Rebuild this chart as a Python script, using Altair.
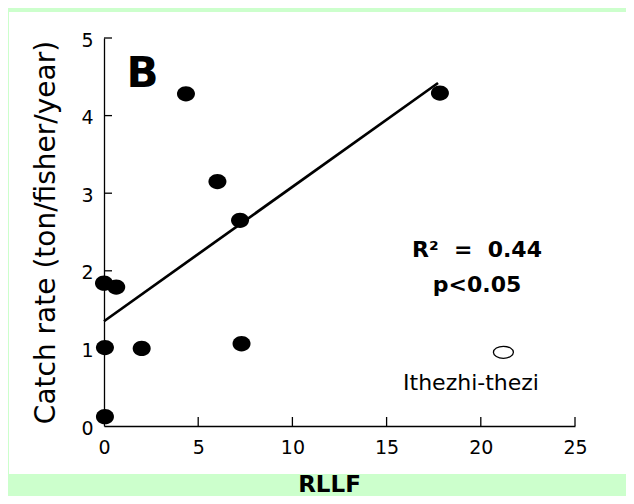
import altair as alt
import pandas as pd

# ---- data ----
rllf = [0.05, 0.05, 0.0, 0.65, 2.0, 7.3, 4.35, 6.02, 7.22, 17.83]
catch_rate = [0.12, 1.01, 1.84, 1.79, 1.0, 1.06, 4.28, 3.15, 2.65, 4.29]
fit_x = [0.0, 17.73]
fit_y = [1.35, 4.42]
outlier_x = [21.2]
outlier_y = [0.95]
outlier_name = ["Ithezhi-thezi"]
x_ticks = [0, 5, 10, 15, 20, 25]
y_ticks = [0, 1, 2, 3, 4, 5]
panel_letter = ["B"]
NB = "\u00a0"
stats_text = ["R\u00b2" + NB * 2 + "=" + NB * 2 + "0.44", "p<0.05"]

# annotation anchors (data units)
letter_pos = (1.2, 4.37)
stats_x = 19.8
stats_y = [2.18, 1.73]
name_pos = (19.48, 0.46)

W, H = 471, 388
FONT = "DejaVu Sans"
ELLIPSE = "M-1,0A1,0.85,0,1,1,1,0A1,0.85,0,1,1,-1,0Z"
OPEN_ELLIPSE = "M-1,0A1,0.6,0,1,1,1,0A1,0.6,0,1,1,-1,0Z"

xs = alt.Scale(domain=[0, 25], nice=False, zero=False)
ys = alt.Scale(domain=[0, 5], nice=False, zero=False)

xa = alt.Axis(
    values=x_ticks, ticks=False, grid=False, domainColor="black", zindex=2,
    domainWidth=1.3, labelFont=FONT, labelFontSize=19, labelColor="black",
    labelPadding=12, labelFlush=False, labelOverlap=False,
    title="RLLF", titleFont=FONT, titleFontSize=23, titleFontWeight="bold",
    titleColor="black", titleX=225, titleY=65, titleAlign="center",
    titleBaseline="alphabetic",
)
ya = alt.Axis(
    values=y_ticks, ticks=False, grid=False, domainColor="black", zindex=2,
    domainWidth=1.3, labelFont=FONT, labelFontSize=19, labelColor="black",
    labelPadding=11, labelFlush=False, labelOverlap=False, labelOffset=2,
    title="Catch rate (ton/fisher/year)", titleFont=FONT, titleFontSize=28,
    titleFontWeight="normal", titleColor="black", titleAngle=270,
    titleX=-50, titleY=194, titleAlign="center", titleBaseline="alphabetic",
)


def X(f):
    return alt.X(f, scale=xs, axis=xa, title="RLLF")


def Y(f):
    return alt.Y(f, scale=ys, axis=ya, title="Catch rate (ton/fisher/year)")


pts = pd.DataFrame({"x": rllf, "y": catch_rate})
fit = pd.DataFrame({"x": fit_x, "y": fit_y})
out = pd.DataFrame({"x": outlier_x, "y": outlier_y})

panel = alt.Chart(pd.DataFrame({"a": [0]})).mark_rect(color="white").encode(
    x=alt.value(-95), x2=alt.value(522), y=alt.value(-26), y2=alt.value(436)
)

line = alt.Chart(fit).mark_line(color="black", strokeWidth=2.7).encode(x=X("x:Q"), y=Y("y:Q"))

points = alt.Chart(pts).mark_point(
    shape=ELLIPSE, size=324, filled=True, color="black", opacity=1
).encode(x=X("x:Q"), y=Y("y:Q"))

outlier = alt.Chart(out).mark_point(
    shape=OPEN_ELLIPSE, size=400, filled=False, color="black", strokeWidth=1.3, opacity=1
).encode(x=X("x:Q"), y=Y("y:Q"))

name_txt = alt.Chart(pd.DataFrame({"x": [name_pos[0]], "y": [name_pos[1]], "t": outlier_name})).mark_text(
    font=FONT, fontSize=22, color="black", align="center", baseline="alphabetic"
).encode(x=X("x:Q"), y=Y("y:Q"), text="t:N")

letter_txt = alt.Chart(pd.DataFrame({"x": [letter_pos[0]], "y": [letter_pos[1]], "t": panel_letter})).mark_text(
    font=FONT, fontSize=42, fontWeight="bold", color="black", align="left", baseline="alphabetic"
).encode(x=X("x:Q"), y=Y("y:Q"), text="t:N")

stats_txt = alt.Chart(pd.DataFrame({"x": [stats_x] * 2, "y": stats_y, "t": stats_text})).mark_text(
    font=FONT, fontSize=22, fontWeight="bold", color="black", align="center", baseline="alphabetic"
).encode(x=X("x:Q"), y=Y("y:Q"), text="t:N")

ytick = alt.Chart(pd.DataFrame({"y": y_ticks[1:]})).mark_rule(color="black", strokeWidth=1.3).encode(
    y=Y("y:Q"), x=alt.value(0), x2=alt.value(8)
)
xtick = alt.Chart(pd.DataFrame({"x": x_ticks[1:]})).mark_rule(color="black", strokeWidth=1.3).encode(
    x=X("x:Q"), y=alt.value(H), y2=alt.value(H - 9)
)

chart = alt.layer(
    panel, line, points, outlier, name_txt, letter_txt, stats_txt, ytick, xtick
).properties(
    width=W, height=H, background="#CCFFCC",
    padding={"left": 96, "top": 30, "right": 51, "bottom": 70},
    autosize=alt.AutoSizeParams(type="none"),
).configure_view(strokeWidth=0)

chart.save("out.html", embed_options={"renderer": "svg", "actions": False})
